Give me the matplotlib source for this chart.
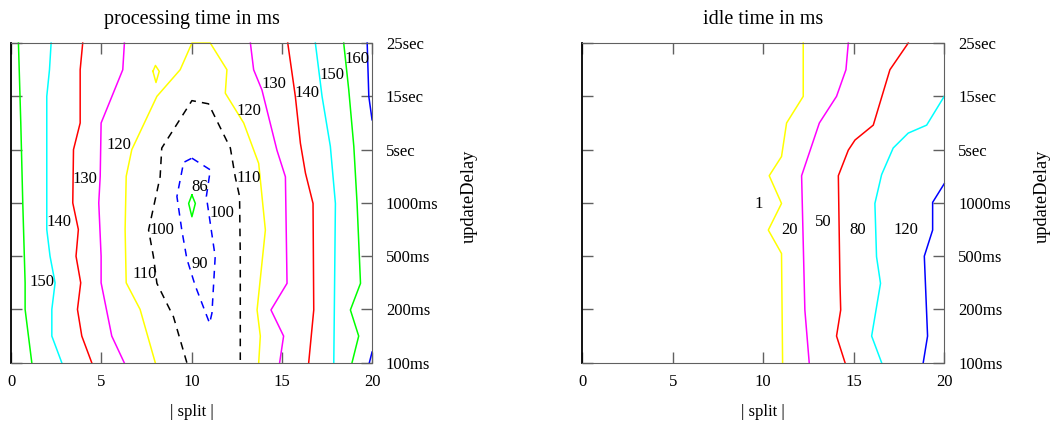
import matplotlib
matplotlib.use("Agg")
import matplotlib.pyplot as plt

plt.rcParams["font.family"] = "serif"
plt.rcParams["font.serif"] = ["Liberation Serif", "DejaVu Serif"]

# y axis rows (updateDelay) and x axis (|split|)
delay_labels = ["100ms", "200ms", "500ms", "1000ms", "5sec", "15sec", "25sec"]
split_ticks = [0, 5, 10, 15, 20]

# processing time contours, (split, delay row) points
proc_150 = [(0.41, 6), (0.54, 4.5), (0.65, 3.0), (0.78, 1.5), (0.78, 1.0), (1.15, 0)]
proc_140 = [(2.22, 6), (2.13, 5.5), (1.98, 5.0), (1.98, 2.5), (2.16, 2.0), (2.44, 1.5),
            (2.26, 1.0), (2.26, 0.5), (2.81, 0)]
proc_130 = [(3.97, 6), (3.83, 5.5), (3.83, 4.5), (3.46, 4.0), (3.42, 3.0), (3.73, 2.5),
            (3.60, 2.0), (3.86, 1.5), (3.68, 1.0), (3.92, 0.5), (4.47, 0)]
proc_120 = [(6.28, 6), (6.19, 5.5), (4.99, 4.5), (4.94, 3.5), (4.86, 3.0), (4.99, 2.0),
            (4.99, 1.5), (5.58, 0.5), (6.27, 0)]
proc_110 = [(7.99, 0), (7.15, 1.0), (6.38, 1.5), (6.32, 2.5), (6.38, 3.5), (6.69, 4.0),
            (8.08, 5.0), (9.37, 5.5), (10.02, 6), (11.04, 6), (11.96, 5.5), (11.87, 5.06),
            (12.89, 4.5), (13.72, 3.74), (14.09, 2.49), (13.63, 0.99), (13.81, 0.5), (13.72, 0)]
proc_110b = [(7.86, 5.47), (8.0, 5.58), (8.21, 5.47), (8.03, 5.26), (7.86, 5.47)]
proc_100 = [(9.74, 0), (9.0, 0.86), (8.08, 1.49), (7.89, 1.99), (7.62, 2.49), (8.26, 3.49),
            (8.35, 4.03), (10.02, 4.92), (10.94, 4.86), (12.15, 4.03), (12.42, 3.49),
            (12.66, 3.12), (12.70, 1.99), (12.70, 0)]
proc_90 = [(10.02, 3.84), (11.04, 3.62), (10.82, 3.12), (11.31, 1.99), (11.13, 0.93),
           (11.0, 0.74), (10.2, 1.45), (9.74, 1.95), (9.46, 2.49), (9.19, 3.12),
           (9.56, 3.76), (10.02, 3.84)]
proc_86 = [(10.02, 3.15), (10.21, 2.99), (10.02, 2.74), (9.84, 2.99), (10.02, 3.15)]
proc_150r = [(18.43, 6), (18.71, 5.12), (18.99, 4.06), (19.17, 2.99), (19.36, 1.49),
             (18.80, 0.99), (19.26, 0.5), (18.89, 0)]
proc_140r = [(16.86, 6), (17.23, 5.0), (17.69, 4.06), (17.97, 2.99), (17.88, 0)]
proc_130r = [(15.33, 6), (15.75, 5.0), (16.03, 4.12), (16.31, 3.56), (16.73, 2.99),
             (16.77, 0.99), (16.49, 0)]
proc_120r = [(13.26, 6), (13.44, 5.5), (13.90, 5.12), (14.73, 3.99), (15.20, 3.49),
             (15.29, 1.49), (14.40, 0.99), (15.10, 0.5), (14.88, 0)]
proc_160 = [(19.73, 6), (19.82, 5.0), (20.0, 4.56)]
proc_160b = [(19.85, 0), (20.0, 0.2)]

proc_label_text = ["150", "140", "130", "120", "110", "100", "86", "100", "90",
                   "110", "120", "130", "140", "150", "160"]
proc_label_x = [1.70, 2.68, 4.10, 5.99, 7.43, 8.36, 10.48, 11.69, 10.48,
                13.16, 13.16, 14.55, 16.40, 17.79, 19.17]
proc_label_y = [1.52, 2.65, 3.45, 4.09, 1.66, 2.49, 3.29, 2.81, 1.85,
                3.46, 4.73, 5.23, 5.06, 5.40, 5.71]

# idle time contours
idle_1 = [(12.21, 6), (12.21, 5.0), (11.29, 4.5), (11.01, 3.87), (10.33, 3.51),
          (11.01, 2.99), (10.28, 2.49), (11.01, 2.05), (11.07, 0)]
idle_20 = [(14.70, 6), (14.57, 5.5), (14.05, 5.0), (13.1, 4.5), (12.12, 3.51),
           (12.30, 0.99), (12.54, 0)]
idle_50 = [(18.01, 6), (17.0, 5.5), (16.08, 4.46), (15.07, 4.18), (14.70, 3.99),
           (14.15, 3.51), (14.24, 1.49), (14.28, 0.99), (14.05, 0.5), (14.52, 0)]
idle_80 = [(20.0, 5.0), (19.03, 4.46), (18.01, 4.31), (17.18, 4.03), (16.54, 3.53),
           (16.17, 2.99), (16.26, 1.99), (16.48, 1.49), (15.99, 0.5), (16.54, 0)]
idle_120 = [(20.0, 3.36), (19.36, 3.01), (19.36, 2.49), (18.9, 2.0), (19.08, 0.5),
            (18.84, 0)]

idle_label_text = ["1", "20", "50", "80", "120"]
idle_label_x = [9.76, 11.44, 13.32, 15.22, 17.87]
idle_label_y = [2.98, 2.49, 2.65, 2.49, 2.49]

solid = "-"
dashed = (0, (5, 4))
proc_lines = [
    (proc_150, "#00ff00", solid), (proc_140, "#00ffff", solid), (proc_130, "#ff0000", solid),
    (proc_120, "#ff00ff", solid), (proc_110, "#ffff00", solid), (proc_110b, "#ffff00", solid),
    (proc_100, "black", dashed), (proc_90, "#0000ff", dashed), (proc_86, "#00ff00", solid),
    (proc_150r, "#00ff00", solid), (proc_140r, "#00ffff", solid), (proc_130r, "#ff0000", solid),
    (proc_120r, "#ff00ff", solid), (proc_160, "#0000ff", solid), (proc_160b, "#0000ff", solid),
]
idle_lines = [
    (idle_1, "#ffff00", solid), (idle_20, "#ff00ff", solid), (idle_50, "#ff0000", solid),
    (idle_80, "#00ffff", solid), (idle_120, "#0000ff", solid),
]

fig = plt.figure(figsize=(10.51, 4.25), dpi=100)
ax1 = fig.add_axes([0.0105, 0.1466, 0.3435, 0.752])
ax2 = fig.add_axes([0.554, 0.1466, 0.3444, 0.752])


def draw_panel(ax, lines, ltext, lx, ly, title):
    for pts, color, ls in lines:
        xs = [p[0] for p in pts]
        ys = [p[1] for p in pts]
        ax.plot(xs, ys, color=color, linestyle=ls, linewidth=1.1, clip_on=False)
    for t, x, y in zip(ltext, lx, ly):
        ax.text(x, y, t, ha="center", va="center", fontsize=12)
    ax.set_xlim(0, 20)
    ax.set_ylim(0, 6)
    ax.set_xticks(split_ticks)
    ax.set_yticks(range(len(delay_labels)))
    ax.set_yticklabels(delay_labels)
    ax.tick_params(direction="in", length=8, width=1, color="#606060",
                   top=True, right=True, left=True, bottom=True,
                   labelleft=False, labelright=True, labelsize=12, pad=8)
    ax.tick_params(axis="y", pad=10)
    for lbl in ax.get_yticklabels():
        lbl.set_va("center_baseline")
    for side in ["top", "right", "bottom"]:
        ax.spines[side].set_color("#606060")
    ax.spines["left"].set_color("black")
    ax.spines["left"].set_linewidth(1.3)
    ax.set_title(title, fontsize=14.5, pad=14)
    ax.set_xlabel("| split |", fontsize=12, labelpad=10)
    ax.yaxis.set_label_position("right")
    ax.set_ylabel("updateDelay", fontsize=13.3)
    ax.yaxis.set_label_coords(1.0 + 89 / 362, 0.52)


draw_panel(ax1, proc_lines, proc_label_text, proc_label_x, proc_label_y,
           "processing time in ms")
draw_panel(ax2, idle_lines, idle_label_text, idle_label_x, idle_label_y,
           "idle time in ms")

fig.savefig("out.png", dpi=100)
